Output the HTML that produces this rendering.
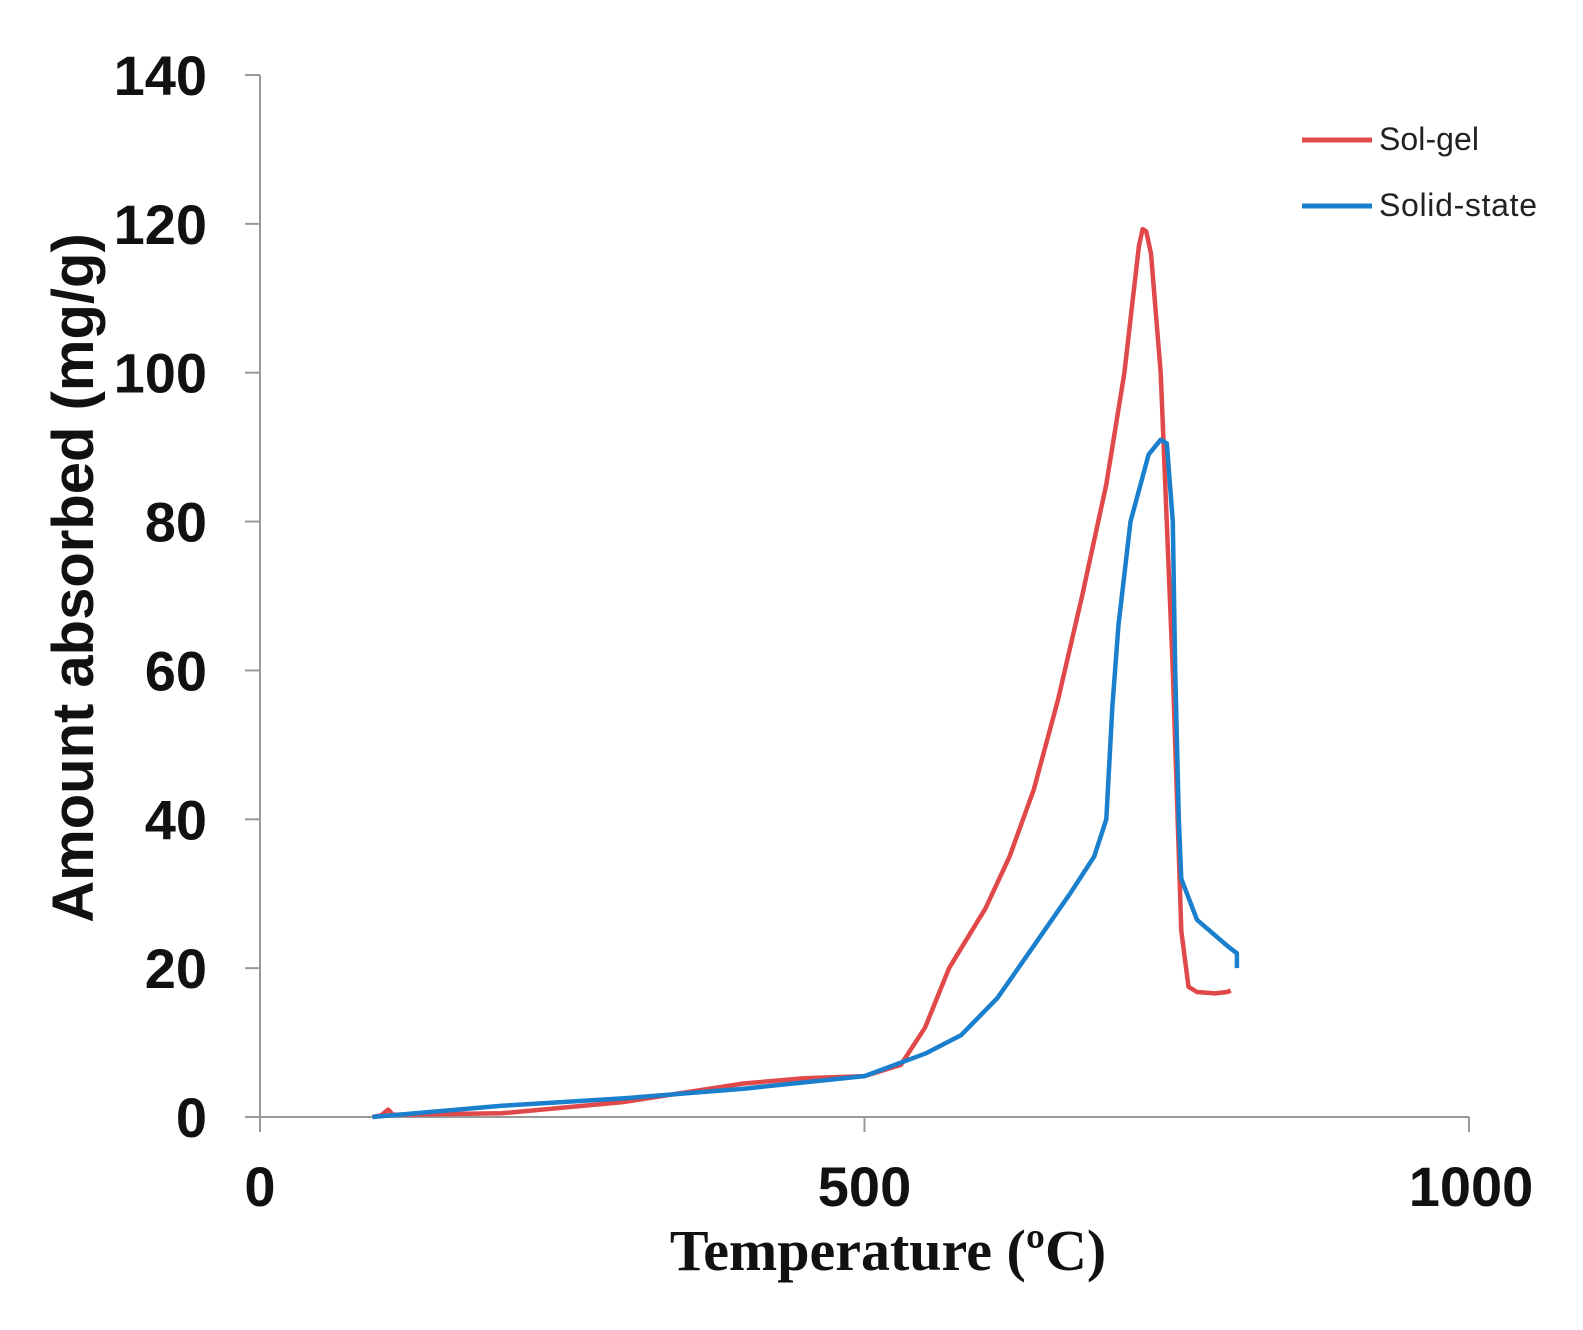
<!DOCTYPE html>
<html><head><meta charset="utf-8"><style>
html,body{margin:0;padding:0;background:#fff;}
svg{display:block;}
</style></head><body>
<svg id="chart" width="1583" height="1330" xmlns="http://www.w3.org/2000/svg"></svg>
<script>
const xTicks=[0,500,1000];
const yTicks=[0,20,40,60,80,100,120,140];
const solGelX=[93,100,106,110,200,300,400,450,500,530,550,570,600,620,640,660,680,700,715,722,727,730,733,737,745,755,762,768,775,790,800,803];
const solGelY=[0,0.2,1,0.3,0.5,2,4.5,5.2,5.5,7,12,20,28,35,44,56,70,85,100,110,117,119.3,119,116,100,60,25,17.5,16.8,16.6,16.8,17];
const solidX=[93,200,300,400,500,550,580,610,640,670,690,700,705,710,720,735,745,750,755,757,760,762,775,800,808,808];
const solidY=[0,1.5,2.5,3.8,5.5,8.5,11,16,23,30,35,40,55,66,80,89,91,90.5,80,60,40,32,26.5,23,22,20];
const NS='http://www.w3.org/2000/svg';
const svg=document.getElementById('chart');
const X0=260,X1=1469,Y0=1117,Y1=75;
const sx=v=>X0+(v/1000)*(X1-X0);
const sy=v=>Y0-(v/140)*(Y0-Y1);
function el(t,a,txt){const e=document.createElementNS(NS,t);for(const k in a)e.setAttribute(k,a[k]);if(txt!==undefined)e.textContent=txt;svg.appendChild(e);return e;}
let e;
e=el('line',{x1:X0,y1:Y1,x2:X0,y2:Y0,stroke:'#999','stroke-width':2});


e=el('line',{x1:X0,y1:Y0,x2:X1,y2:Y0,stroke:'#999','stroke-width':2});


yTicks.forEach(v=>{
  e=el('line',{x1:X0-15,y1:sy(v),x2:X0,y2:sy(v),stroke:'#999','stroke-width':2});
  
  
  e=el('text',{x:207,y:sy(v)+20,'text-anchor':'end','font-family':'Liberation Sans, sans-serif','font-weight':'bold','font-size':56,fill:'#111'},String(v));
  
  
});
xTicks.forEach(v=>{
  e=el('line',{x1:sx(v),y1:Y0,x2:sx(v),y2:Y0+15,stroke:'#999','stroke-width':2});
  
  
  e=el('text',{x:sx(v)+(v===1000?2:0),y:1206,'text-anchor':'middle','font-family':'Liberation Sans, sans-serif','font-weight':'bold','font-size':56,fill:'#111'},String(v));
  
  
});
e=el('text',{x:888,y:1270,'text-anchor':'middle','font-family':'Liberation Serif, serif','font-weight':'bold','font-size':58,fill:'#111'},'Temperature (ºC)');


e=el('text',{x:0,y:0,'text-anchor':'middle','font-family':'Liberation Sans, sans-serif','font-weight':'bold','font-size':58,fill:'#111',transform:'translate(93,578) rotate(-90)'},'Amount absorbed (mg/g)');


function pts(xs,ys){return xs.map((x,i)=>sx(x).toFixed(1)+','+sy(ys[i]).toFixed(1)).join(' ');}
e=el('polyline',{points:pts(solGelX,solGelY),fill:'none',stroke:'#e0484a','stroke-width':4.5,'stroke-linejoin':'round'});


e=el('polyline',{points:pts(solidX,solidY),fill:'none',stroke:'#1a7fcc','stroke-width':4.5,'stroke-linejoin':'round'});


e=el('line',{x1:1302,y1:140,x2:1372,y2:140,stroke:'#e0484a','stroke-width':5});


e=el('text',{x:1379,y:150,'font-family':'Liberation Sans, sans-serif','font-size':32,fill:'#222',textLength:100},'Sol-gel');


e=el('text',{x:1379,y:216,'font-family':'Liberation Sans, sans-serif','font-size':32,fill:'#222',textLength:158},'Solid-state');


e=el('line',{x1:1302,y1:206,x2:1372,y2:206,stroke:'#1a7fcc','stroke-width':5});


</script>
</body></html>
